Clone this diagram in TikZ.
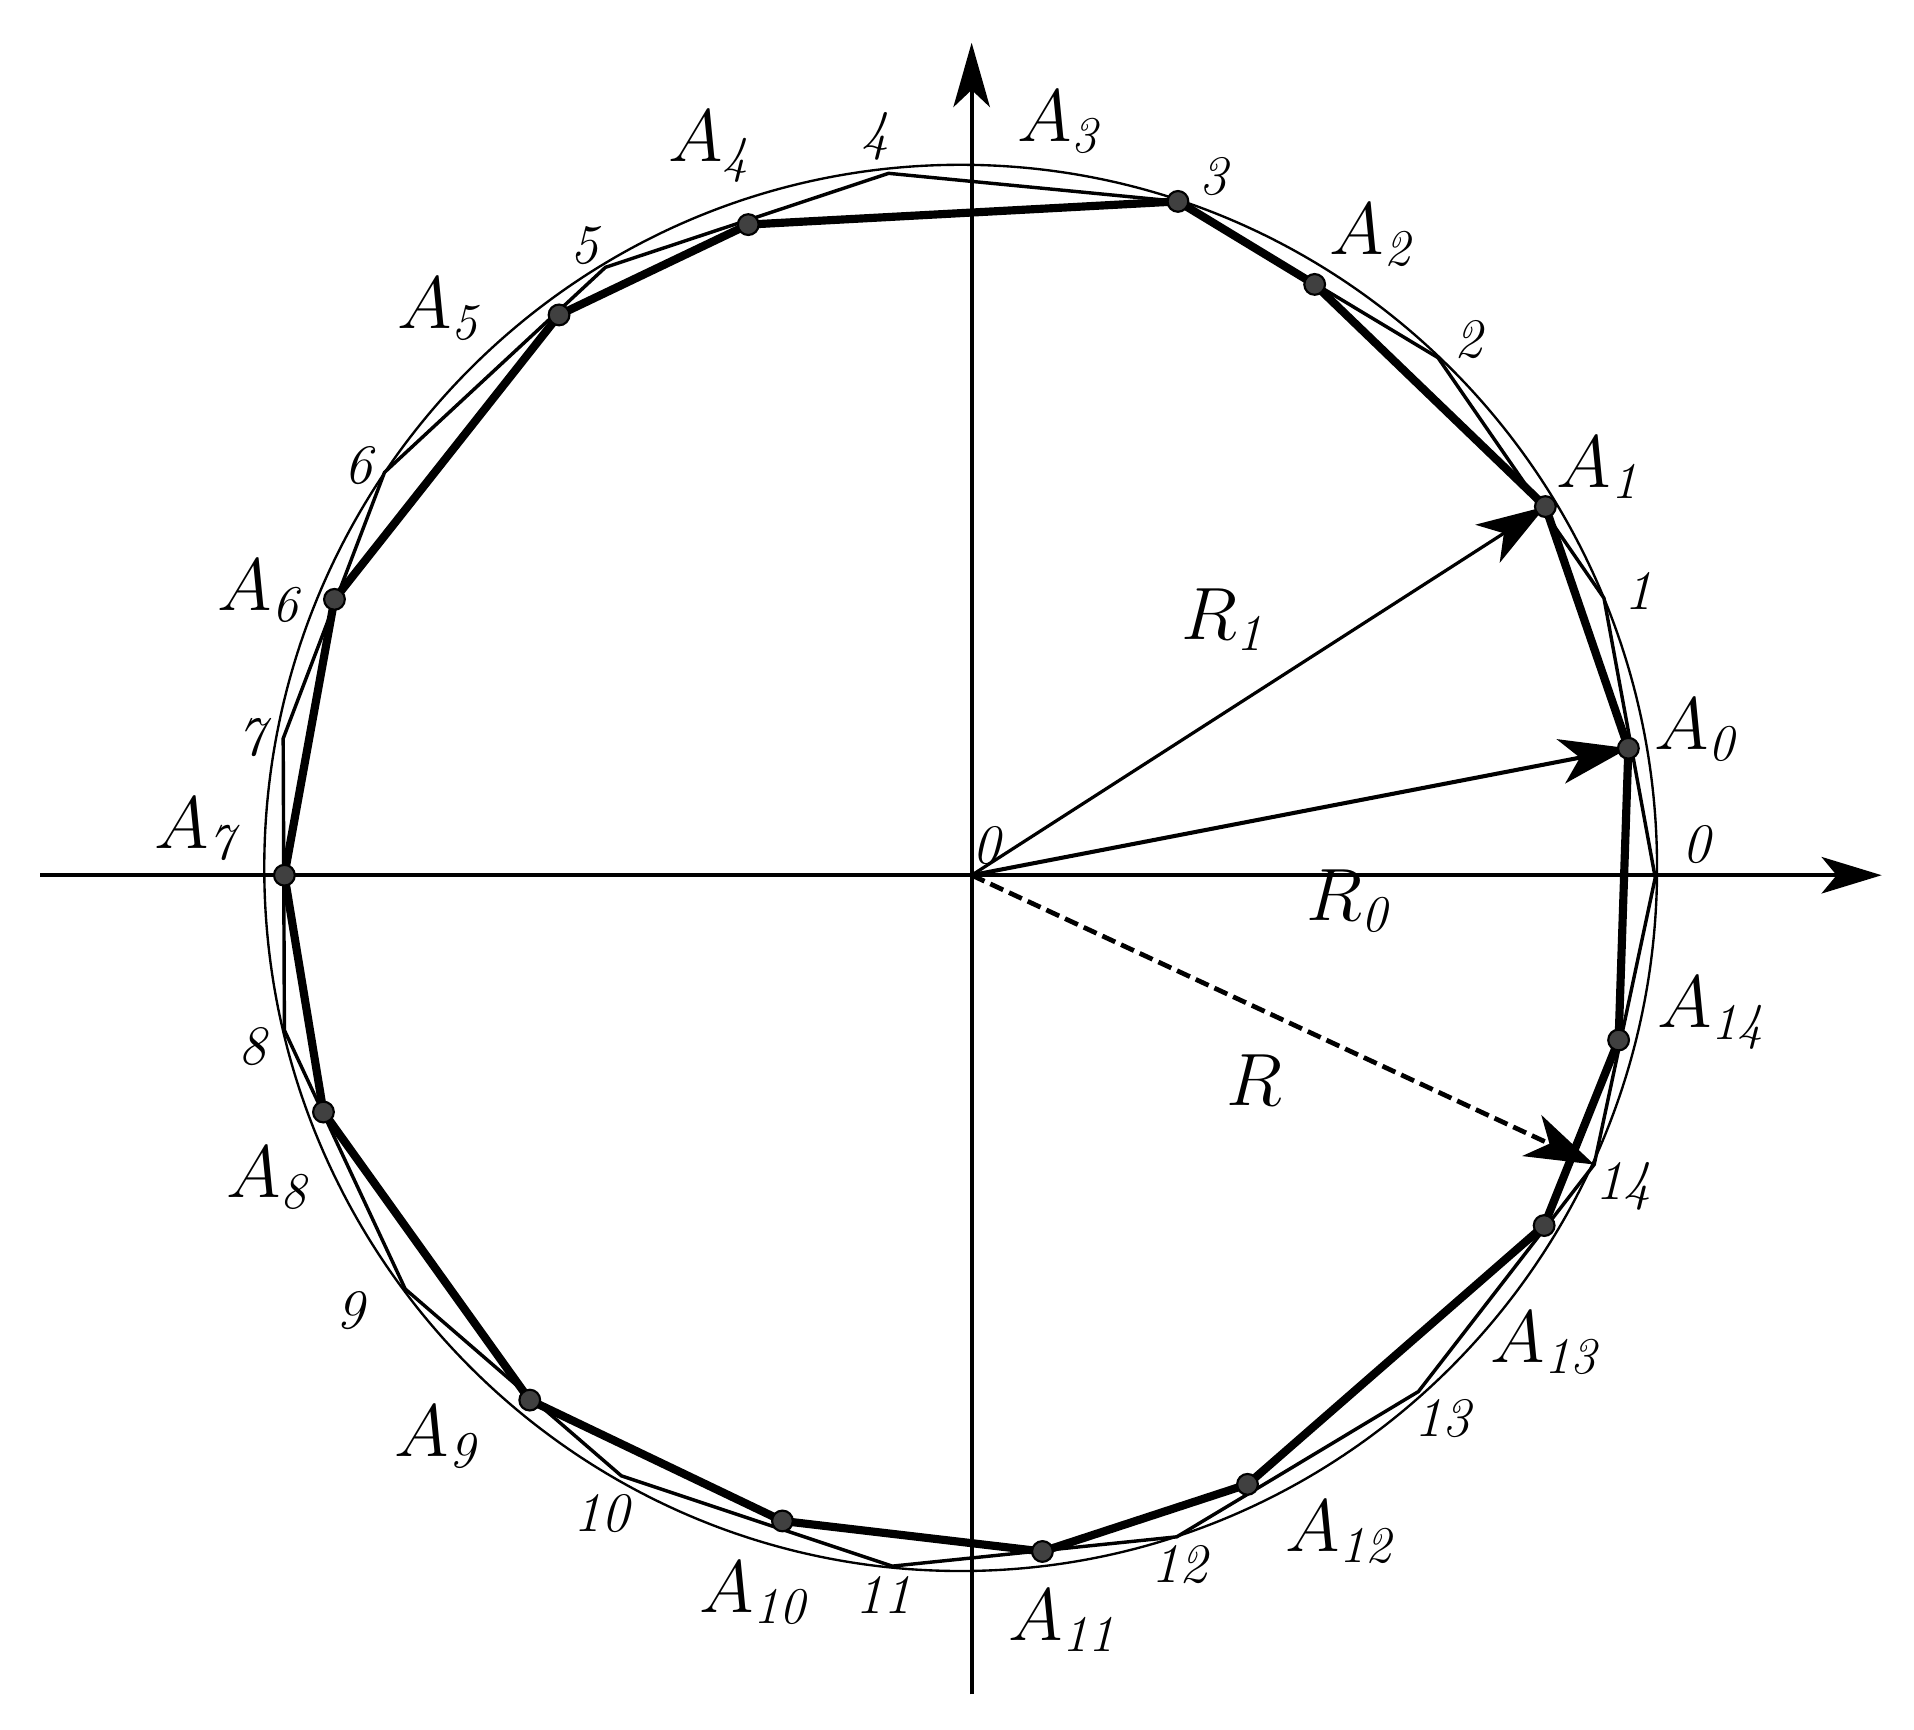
\documentclass[tikz,border=0pt]{standalone}
\usepackage{amsmath,amssymb}
\usetikzlibrary{arrows.meta}

\newcommand{\Apt}[1]{$A_{\mathit{#1}}$}

\begin{document}
\begin{tikzpicture}[
    axis/.style={line width=0.95pt, -{Stealth[length=14pt, width=8.5pt, inset=3.5pt]}},
    vec/.style={-{Stealth[length=16pt, width=10.5pt, inset=4.5pt]}},
    thinpoly/.style={line width=0.8pt, line join=miter},
    thickpoly/.style={line width=1.9pt, line join=round},
    apt/.style={circle, draw=black, fill=black!75, line width=0.5pt, inner sep=0pt, minimum size=0.17cm},
    lbl/.style={font=\fontsize{17.28}{20}\selectfont, inner sep=0pt},
    num/.style={font=\fontsize{13}{15}\selectfont\itshape, inner sep=0pt}]
    \useasboundingbox (-7.96,-7.00) rectangle (7.72,7.17);

    \coordinate (O) at (0,0);
    \coordinate (c) at (-0.09,0.06);
    \coordinate (xl) at (-7.63,0);
    \coordinate (xr) at (7.455,0);
    \coordinate (yb) at (0,-6.71);
    \coordinate (yt) at (0,6.82);

    \coordinate (p0) at (5.60,-0.02);
    \coordinate (p1) at (5.18,2.27);
    \coordinate (p2) at (3.82,4.24);
    \coordinate (p3) at (1.69,5.52);
    \coordinate (p4) at (-0.68,5.75);
    \coordinate (p5) at (-3.00,4.98);
    \coordinate (p6) at (-4.81,3.30);
    \coordinate (p7) at (-5.64,1.12);
    \coordinate (p8) at (-5.63,-1.27);
    \coordinate (p9) at (-4.64,-3.39);
    \coordinate (p10) at (-2.87,-4.92);
    \coordinate (p11) at (-0.65,-5.66);
    \coordinate (p12) at (1.68,-5.42);
    \coordinate (p13) at (3.66,-4.23);
    \coordinate (p14) at (5.10,-2.37);

    \coordinate (A0) at (5.38,1.04);
    \coordinate (A1) at (4.70,3.02);
    \coordinate (A2) at (2.81,4.84);
    \coordinate (A3) at (1.69,5.52);
    \coordinate (A4) at (-1.83,5.33);
    \coordinate (A5) at (-3.38,4.59);
    \coordinate (A6) at (-5.22,2.26);
    \coordinate (A7) at (-5.63,0.00);
    \coordinate (A8) at (-5.31,-1.94);
    \coordinate (A9) at (-3.62,-4.30);
    \coordinate (A10) at (-1.55,-5.29);
    \coordinate (A11) at (0.58,-5.54);
    \coordinate (A12) at (2.26,-4.99);
    \coordinate (A13) at (4.69,-2.87);
    \coordinate (A14) at (5.30,-1.35);

    \draw[line width=0.55pt] (c) ellipse [x radius=5.705, y radius=5.76];

    \draw[thinpoly] (p0) -- (p1) -- (p2) -- (p3) -- (p4) -- (p5) -- (p6) -- (p7)
        -- (p8) -- (p9) -- (p10) -- (p11) -- (p12) -- (p13) -- (p14) -- cycle;
    \draw[thickpoly] (A0) -- (A1) -- (A2) -- (A3) -- (A4) -- (A5) -- (A6) -- (A7)
        -- (A8) -- (A9) -- (A10) -- (A11) -- (A12) -- (A13) -- (A14) -- cycle;

    \draw[axis] (xl) -- (xr);
    \draw[axis, -{Stealth[length=15pt, width=8.5pt, inset=4pt]}] (yb) -- (yt);

    \draw[vec, line width=0.75pt] (O) -- (A1);
    \draw[vec, line width=0.95pt] (O) -- (A0);
    \draw[vec, line width=1.1pt, dash pattern=on 3.3pt off 1.5pt] (O) -- (p14);

    \foreach \i in {0,...,14}
        \node[apt] (d\i) at (A\i) {};

    \node[lbl] (lA0) at (5.96,1.19) {\Apt{0}};
    \node[lbl] (lA1) at (5.16,3.34) {\Apt{1}};
    \node[lbl] (lA2) at (3.30,5.25) {\Apt{2}};
    \node[lbl] (lA3) at (0.74,6.17) {\Apt{3}};
    \node[lbl] (lA4) at (-2.12,5.97) {\Apt{4}};
    \node[lbl] (lA5) at (-4.34,4.64) {\Apt{5}};
    \node[lbl] (lA6) at (-5.81,2.33) {\Apt{6}};
    \node[lbl] (lA7) at (-6.33,0.34) {\Apt{7}};
    \node[lbl] (lA8) at (-5.74,-2.48) {\Apt{8}};
    \node[lbl] (lA9) at (-4.36,-4.60) {\Apt{9}};
    \node[lbl] (lA10) at (-1.76,-5.88) {\Apt{10}};
    \node[lbl] (lA11) at (0.77,-6.11) {\Apt{11}};
    \node[lbl] (lA12) at (3.04,-5.38) {\Apt{12}};
    \node[lbl] (lA13) at (4.72,-3.83) {\Apt{13}};
    \node[lbl] (lA14) at (6.09,-1.13) {\Apt{14}};

    \node[lbl] (lR1) at (2.09,2.09) {$R_{\mathit{1}}$};
    \node[lbl] (lR0) at (3.11,-0.21) {$R_{\mathit{0}}$};
    \node[lbl] (lR) at (2.32,-1.68) {$R$};

    \node[num] (lO) at (0.12,0.24) {0};
    \node[num] (n0) at (5.94,0.25) {0};
    \node[num] (n1) at (5.46,2.33) {1};
    \node[num] (n2) at (4.07,4.39) {2};
    \node[num] (n3) at (1.98,5.72) {3};
    \node[num] (n4) at (-0.79,6.05) {4};
    \node[num] (n5) at (-3.17,5.16) {5};
    \node[num] (n6) at (-5.02,3.36) {6};
    \node[num] (n7) at (-5.90,1.13) {7};
    \node[num] (n8) at (-5.89,-1.40) {8};
    \node[num] (n9) at (-5.09,-3.57) {9};
    \node[num] (n10) at (-3.03,-5.23) {10};
    \node[num] (n11) at (-0.72,-5.90) {11};
    \node[num] (n12) at (1.70,-5.65) {12};
    \node[num] (n13) at (3.86,-4.45) {13};
    \node[num] (n14) at (5.34,-2.55) {14};
\end{tikzpicture}
\end{document}
